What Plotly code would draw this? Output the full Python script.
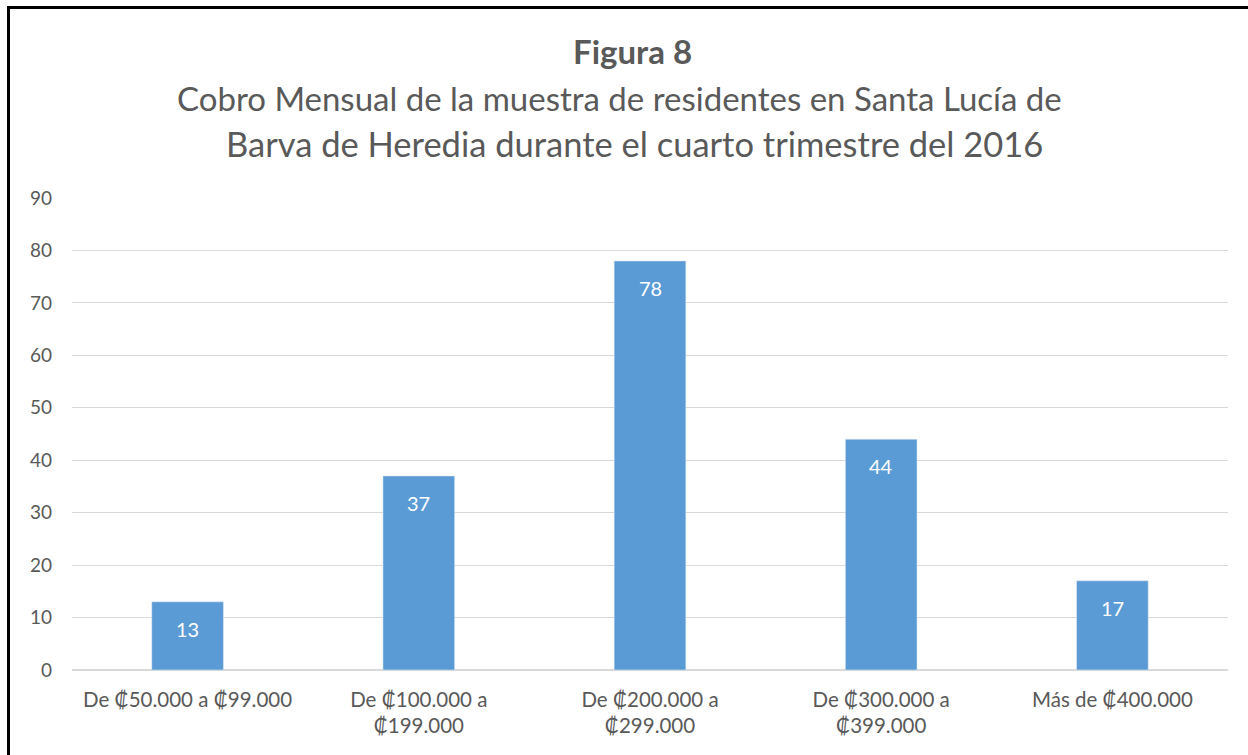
import plotly.graph_objects as go

categories = ["De ₡50.000 a ₡99.000", "De ₡100.000 a<br>₡199.000", "De ₡200.000 a<br>₡299.000",
              "De ₡300.000 a<br>₡399.000", "Más de ₡400.000"]
values = [13, 37, 78, 44, 17]
y_ticks = [0, 10, 20, 30, 40, 50, 60, 70, 80, 90]

FONT = "Lato"
GRAY = "#595959"
L, R, T, B = 72, 20, 198, 85
W, H = 1248, 755
pw, ph = W - L - R, H - T - B

def px_to_paper_x(px):
    return (px - L) / pw

def px_to_paper_y(py):
    return (H - B - py) / ph

fig = go.Figure(go.Bar(
    x=categories, y=values, marker_color="#5B9BD5", width=0.31,
    hoverinfo="x+y",
))

# data labels, anchored to each bar's value
for c, v in zip(categories, values):
    fig.add_annotation(x=c, y=v, text=str(v), showarrow=False, yshift=-27,
                       yanchor="middle", font=dict(color="white", size=20, family=FONT))

fig.update_layout(
    width=W, height=H, margin=dict(l=L, r=R, t=T, b=B),
    paper_bgcolor="white", plot_bgcolor="white", showlegend=False,
    font=dict(family=FONT, color=GRAY, size=18),
    yaxis=dict(range=[0, 90], tickvals=y_ticks, showgrid=True, gridcolor="#D9D9D9",
               gridwidth=1, zeroline=True, zerolinecolor="#D9D9D9", ticks="",
               ticklabelstandoff=19, tickfont=dict(size=19, color=GRAY)),
    xaxis=dict(showline=False, ticks="", ticklabelstandoff=15,
               tickfont=dict(size=20.5, color=GRAY)),
)

fig.add_annotation(text="<b>Figura 8</b>", xref="paper", yref="paper",
                   x=px_to_paper_x(632), y=px_to_paper_y(51), showarrow=False,
                   font=dict(size=33, color=GRAY, family=FONT), yanchor="middle")
fig.add_annotation(text="Cobro Mensual de la muestra de residentes en Santa Lucía de",
                   xref="paper", yref="paper", x=px_to_paper_x(619), y=px_to_paper_y(98),
                   showarrow=False, font=dict(size=33, color=GRAY, family=FONT), yanchor="middle")
fig.add_annotation(text="Barva de Heredia durante el cuarto trimestre del 2016",
                   xref="paper", yref="paper", x=px_to_paper_x(634), y=px_to_paper_y(143),
                   showarrow=False, font=dict(size=34.5, color=GRAY, family=FONT), yanchor="middle")

# black frame (top and left edges)
fig.add_shape(type="line", xref="paper", yref="paper",
              x0=px_to_paper_x(7), x1=px_to_paper_x(1260), y0=px_to_paper_y(7.5), y1=px_to_paper_y(7.5),
              line=dict(color="black", width=3))
fig.add_shape(type="line", xref="paper", yref="paper",
              x0=px_to_paper_x(8.5), x1=px_to_paper_x(8.5), y0=px_to_paper_y(6), y1=px_to_paper_y(800),
              line=dict(color="black", width=3))

fig.write_html("out.html", config={"displayModeBar": False},
               post_script="document.body.style.margin='0';document.body.style.overflow='hidden';")
